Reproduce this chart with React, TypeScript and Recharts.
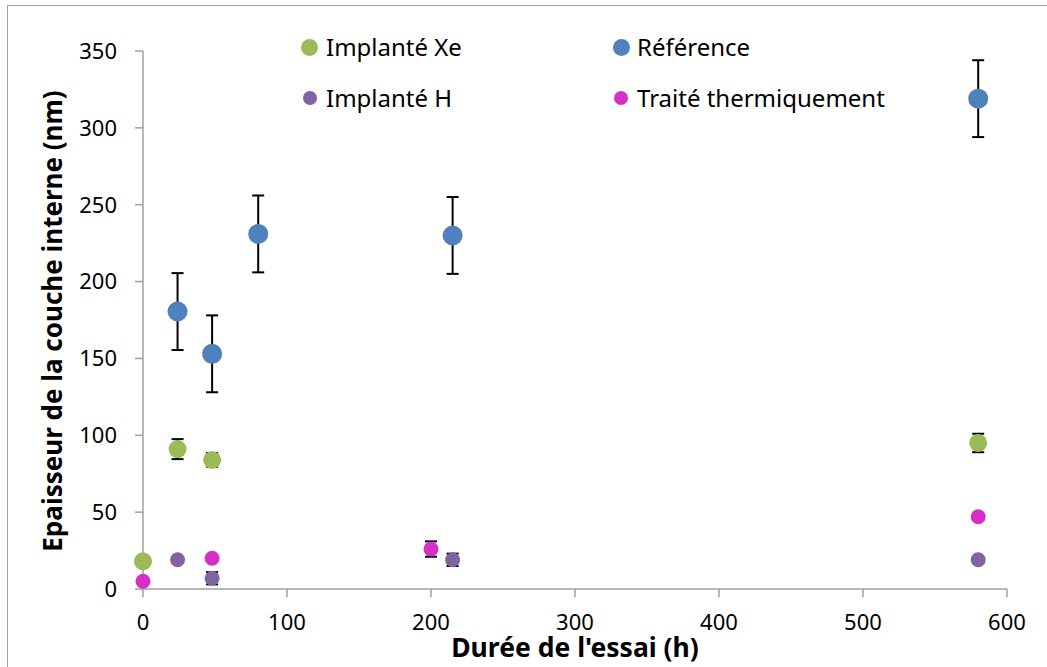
import React from 'react';
import { ScatterChart, Scatter, XAxis, YAxis, ErrorBar, Legend, Label } from 'recharts';

// Implanté Xe
const xeHours = [0, 24, 48, 580];
const xeThickness = [18, 91, 84, 95];
const xeError = [null, 6.5, 4.5, 6];

// Référence
const refHours = [24, 48, 80, 215, 580];
const refThickness = [180.5, 153, 231, 230, 319];
const refError = [25, 25, 25, 25, 25];

// Implanté H
const hHours = [24, 48, 215, 580];
const hThickness = [19, 7, 19, 19];
const hError = [null, 4, 4, null];

// Traité thermiquement
const ttHours = [0, 48, 200, 580];
const ttThickness = [5, 20, 26, 47];
const ttError = [null, null, 5, 2];

const xTicks = [0, 100, 200, 300, 400, 500, 600];
const yTicks = [0, 50, 100, 150, 200, 250, 300, 350];

const xTitle = "Durée de l'essai (h)";
const yTitle = 'Epaisseur de la couche interne (nm)';

const build = (xs: number[], ys: number[], es: (number | null)[]) =>
  xs.map((x, i) => ({ x, y: ys[i], err: es[i] ?? undefined }));

const series = [
  { name: 'Implanté Xe', color: '#9BBB59', r: 9, legendR: 8.5, data: build(xeHours, xeThickness, xeError) },
  { name: 'Référence', color: '#4F81BD', r: 10, legendR: 8.5, data: build(refHours, refThickness, refError) },
  { name: 'Implanté H', color: '#8064A2', r: 7.5, legendR: 7, data: build(hHours, hThickness, hError) },
  { name: 'Traité thermiquement', color: '#D62FC7', r: 7.5, legendR: 7, data: build(ttHours, ttThickness, ttError) },
];

const FONT = "'Noto Sans', 'Open Sans', sans-serif";
const AXIS_COLOR = '#A0A0A0';

const legendPos = [
  { mx: 309.5, tx: 326, y: 47 },
  { mx: 621, tx: 637, y: 47 },
  { mx: 309.5, tx: 326, y: 98 },
  { mx: 621, tx: 637, y: 98 },
];

const LegendContent = (props: any) => {
  const payload = (props.payload || []).filter((e: any) => e.type !== 'none');
  return (
    <div style={{ position: 'relative', width: 1047, height: 130 }}>
      {payload.map((entry: any, i: number) => {
        const s = series.find((ss) => ss.name === entry.value) || series[i];
        const idx = series.indexOf(s);
        const p = legendPos[idx];
        return (
          <React.Fragment key={s.name}>
            <div
              style={{
                position: 'absolute',
                left: p.mx - s.legendR,
                top: p.y - s.legendR,
                width: s.legendR * 2,
                height: s.legendR * 2,
                borderRadius: '50%',
                background: s.color,
              }}
            />
            <div
              style={{
                position: 'absolute',
                left: p.tx,
                top: p.y - 18,
                height: 36,
                lineHeight: '36px',
                fontFamily: FONT,
                fontSize: 24,
                color: '#000',
                whiteSpace: 'nowrap',
              }}
            >
              {entry.value}
            </div>
          </React.Fragment>
        );
      })}
    </div>
  );
};

export default function App() {
  return (
    <div style={{ position: 'absolute', left: 0, top: 0, width: 1047, height: 667, overflow: 'hidden', background: '#fff' }}>
      <div
        style={{
          position: 'absolute',
          left: 7,
          top: 5,
          width: 1100,
          height: 700,
          border: `1.5px solid ${AXIS_COLOR}`,
          boxSizing: 'border-box',
        }}
      />
      <div style={{ position: 'absolute', left: 0, top: 0 }}>
        <ScatterChart width={1047} height={667} margin={{ top: 51, right: 40, bottom: 0, left: 83 }}>
          <XAxis
            type="number"
            dataKey="x"
            domain={[0, 600]}
            ticks={xTicks}
            interval={0}
            height={78}
            stroke={AXIS_COLOR}
            strokeWidth={1.5}
            tickSize={8}
            tickMargin={17}
            tick={{ fill: '#000', fontSize: 22, fontFamily: FONT }}
          >
            <Label
              content={(p: any) => {
                const vb = p.viewBox || { x: 143, width: 864 };
                const cx = vb.x + vb.width / 2;
                return (
                  <text x={cx} y={657} textAnchor="middle" fontFamily={FONT} fontWeight="bold" fontSize={26.5} fill="#000">
                    {xTitle}
                  </text>
                );
              }}
            />
          </XAxis>
          <YAxis
            type="number"
            dataKey="y"
            domain={[0, 350]}
            ticks={yTicks}
            interval={0}
            width={60}
            stroke={AXIS_COLOR}
            strokeWidth={1.5}
            tickSize={8}
            tickMargin={18}
            tick={{ fill: '#000', fontSize: 22, fontFamily: FONT }}
          >
            <Label
              content={() => (
                <text
                  x={62}
                  y={321}
                  transform="rotate(-90 62 321)"
                  textAnchor="middle"
                  fontFamily={FONT}
                  fontWeight="bold"
                  fontSize={26}
                  fill="#000"
                >
                  {yTitle}
                </text>
              )}
            />
          </YAxis>
          <Legend
            layout="horizontal"
            verticalAlign="middle"
            align="center"
            wrapperStyle={{ top: 0, left: 0, width: 1047, height: 130 }}
            content={<LegendContent />}
          />
          {series.map((s) => (
            <Scatter
              key={s.name + '-err'}
              name={s.name + ' (erreur)'}
              data={s.data}
              legendType="none"
              isAnimationActive={false}
              shape={() => <g />}
            >
              <ErrorBar dataKey="err" direction="y" width={6} stroke="#000" strokeWidth={2} />
            </Scatter>
          ))}
          {series.map((s) => (
            <Scatter
              key={s.name}
              name={s.name}
              data={s.data}
              fill={s.color}
              isAnimationActive={false}
              shape={(p: any) => <circle cx={p.cx} cy={p.cy} r={s.r} fill={s.color} />}
            />
          ))}
        </ScatterChart>
      </div>
    </div>
  );
}
